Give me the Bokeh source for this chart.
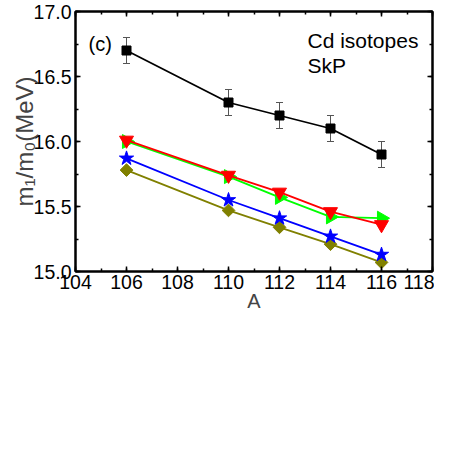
import math
from bokeh.plotting import figure
from bokeh.models import (Range1d, LinearAxis, Label, Whisker, ColumnDataSource,
                          TeeHead, SingleIntervalTicker, PrintfTickFormatter,
                          CustomJSTickFormatter)
from bokeh.embed import file_html
from bokeh.resources import INLINE

# ---------------- data ----------------
mass_number = [106, 110, 112, 114, 116]
m1m0_exp = [16.70, 16.30, 16.20, 16.10, 15.90]
m1m0_err = [0.10, 0.10, 0.10, 0.10, 0.10]
m1m0_red = [16.01, 15.74, 15.61, 15.46, 15.36]
m1m0_green = [16.00, 15.73, 15.57, 15.42, 15.41]
m1m0_blue = [15.87, 15.55, 15.41, 15.27, 15.13]
m1m0_olive = [15.78, 15.47, 15.34, 15.21, 15.07]

x_start, x_end = 104, 118
y_start, y_end = 15.0, 17.0
x_label = "A"
y_label = "m\u2081/m\u2080(MeV)"

FONT = "Liberation Sans"

p = figure(width=434, height=434, output_backend="svg", toolbar_location=None,
           x_range=Range1d(x_start, x_end), y_range=Range1d(y_start, y_end),
           min_border_left=75, min_border_right=2, min_border_top=11,
           min_border_bottom=163)
p.background_fill_color = "white"
p.border_fill_color = "white"
p.xgrid.visible = False
p.ygrid.visible = False
p.outline_line_color = "black"
p.outline_line_width = 2

# axes
p.add_layout(LinearAxis(), "above")
p.add_layout(LinearAxis(), "right")
for ax in p.xaxis:
    ax.ticker = SingleIntervalTicker(interval=2, num_minor_ticks=2)
for ax in p.yaxis:
    ax.ticker = SingleIntervalTicker(interval=0.5, num_minor_ticks=2)
    ax.formatter = PrintfTickFormatter(format="%.1f")
for ax in list(p.xaxis) + list(p.yaxis):
    ax.axis_line_width = 2
    ax.axis_line_color = "black"
    ax.major_tick_in = 5
    ax.major_tick_out = 0
    ax.minor_tick_in = 3
    ax.minor_tick_out = 0
    ax.major_tick_line_width = 1.5
    ax.minor_tick_line_width = 1.5
    ax.major_tick_line_color = "black"
    ax.minor_tick_line_color = "black"
    ax.major_label_text_font = FONT
    ax.major_label_text_font_size = "19.5px"
    ax.major_label_text_color = "black"
for ax in (p.above[0], p.right[0]):
    ax.formatter = CustomJSTickFormatter(code="return ''")
    ax.major_label_standoff = 0

xa = p.below[0]
xa.major_label_standoff = 3
xa.axis_label = x_label
xa.axis_label_text_font = FONT
xa.axis_label_text_font_size = "20px"
xa.axis_label_text_font_style = "normal"
xa.axis_label_standoff = -2

ya = p.left[0]
ya.major_label_standoff = 4
ya.axis_label = y_label
ya.axis_label_text_font = FONT
ya.axis_label_text_font_size = "24px"
ya.axis_label_text_font_style = "normal"
ya.axis_label_standoff = -7

# ---------------- series ----------------
p.line(mass_number, m1m0_olive, line_color="#808000", line_width=1.8)
p.scatter(mass_number, m1m0_olive, marker="square", angle=math.pi / 4, size=9,
          fill_color="#808000", line_color="#808000")
p.line(mass_number, m1m0_blue, line_color="#0000FF", line_width=1.8)
p.scatter(mass_number, m1m0_blue, marker="star", size=15,
          fill_color="#0000FF", line_color="#0000FF")
p.line(mass_number, m1m0_green, line_color="#00FF00", line_width=1.8)
p.scatter(mass_number, m1m0_green, marker="triangle", angle=-math.pi / 2, size=14,
          fill_color="#00FF00", line_color="#00FF00")
p.line(mass_number, m1m0_red, line_color="#FF0000", line_width=1.8)
p.scatter(mass_number, m1m0_red, marker="inverted_triangle", size=14,
          fill_color="#FF0000", line_color="#FF0000")

src = ColumnDataSource(dict(
    x=mass_number, y=m1m0_exp,
    lo=[v - e for v, e in zip(m1m0_exp, m1m0_err)],
    hi=[v + e for v, e in zip(m1m0_exp, m1m0_err)]))
p.add_layout(Whisker(source=src, base="x", lower="lo", upper="hi",
                     line_color="#555555", line_width=1,
                     upper_head=TeeHead(size=7, line_color="#555555", line_width=1),
                     lower_head=TeeHead(size=7, line_color="#555555", line_width=1)))
p.line(mass_number, m1m0_exp, line_color="black", line_width=1.8)
p.scatter(mass_number, m1m0_exp, marker="square", size=9,
          fill_color="black", line_color="black")

# ---------------- text inside the frame ----------------
FX0, FX1, FY0, FY1 = 75.0, 432.0, 271.0, 11.0
def dx(px):
    return x_start + (px - FX0) * (x_end - x_start) / (FX1 - FX0)
def dy(py):
    return y_start + (FY0 - py) * (y_end - y_start) / (FY0 - FY1)

def lab(px, py, text, size, align="left"):
    p.add_layout(Label(x=dx(px), y=dy(py), text=text,
                       text_align=align, text_baseline="alphabetic",
                       text_font=FONT, text_font_size=f"{size}px",
                       text_color="black"))

lab(88, 43, "(c)", 20)
lab(307, 40, "Cd isotopes", 21)
lab(307, 65, "SkP", 21)

open("out.html", "w").write(file_html(p, INLINE))
